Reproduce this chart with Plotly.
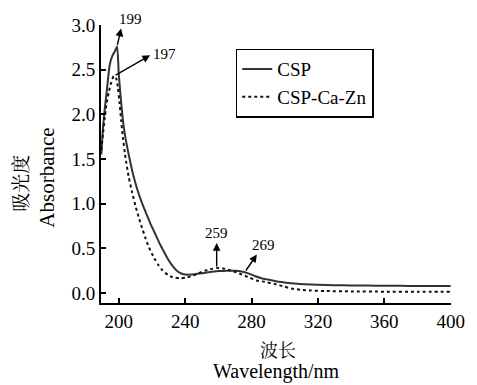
import plotly.graph_objects as go

# ---- data ----
csp_x = [189.5, 190.5, 191.5, 193, 194.5, 196, 197.5, 199, 200, 201.5, 203, 205, 207, 209, 211, 213,
         215, 217, 219, 221, 223, 225, 227, 229, 231, 233, 235, 237, 239, 242, 246, 250, 255, 260,
         265, 270, 274, 278, 282, 286, 290, 294, 298, 302, 306, 312, 320, 330, 340, 350, 360, 370,
         380, 390, 400]
csp_y = [1.55, 1.85, 2.05, 2.30, 2.55, 2.65, 2.70, 2.76, 2.45, 2.12, 1.86, 1.64, 1.46, 1.30, 1.17, 1.06,
         0.96, 0.87, 0.78, 0.70, 0.62, 0.54, 0.47, 0.40, 0.34, 0.29, 0.25, 0.225, 0.21, 0.205, 0.21, 0.22,
         0.235, 0.245, 0.25, 0.248, 0.24, 0.22, 0.19, 0.165, 0.15, 0.135, 0.122, 0.112, 0.105, 0.098,
         0.092, 0.088, 0.085, 0.083, 0.081, 0.080, 0.079, 0.078, 0.078]

zn_x = [189.5, 190.5, 191.5, 192.5, 194, 195.5, 197, 198.5, 199.5, 200.5, 201.5, 202.5, 204, 206, 208,
        210, 212, 214, 216, 218, 220, 222, 224, 226, 228, 230, 232, 234, 237, 240, 244, 248, 252, 256,
        259, 263, 267, 271, 275, 279, 283, 288, 294, 300, 304, 310, 315, 325, 340, 360, 380, 400]
zn_y = [1.60, 1.78, 1.95, 2.10, 2.25, 2.36, 2.43, 2.40, 2.30, 2.12, 1.92, 1.74, 1.52, 1.30, 1.13,
        0.98, 0.85, 0.73, 0.62, 0.52, 0.44, 0.37, 0.31, 0.26, 0.225, 0.20, 0.18, 0.17, 0.165, 0.17,
        0.19, 0.22, 0.25, 0.27, 0.28, 0.275, 0.255, 0.23, 0.20, 0.17, 0.14, 0.125, 0.10, 0.07, 0.05,
        0.035, 0.028, 0.022, 0.018, 0.015, 0.015, 0.015]

series_names = ["CSP", "CSP-Ca-Zn"]

# peak annotations: label, tail (on curve), head (near label)
peak_labels = ["199", "197", "259", "269"]
peak_tail_x = [199, 197.2, 259, 276]
peak_tail_y = [2.76, 2.43, 0.28, 0.235]
peak_head_x = [201.4, 218.9, 259, 283.2]
peak_head_y = [2.96, 2.66, 0.56, 0.43]

x_ticks = [200, 240, 280, 320, 360, 400]
y_ticks = [0.0, 0.5, 1.0, 1.5, 2.0, 2.5, 3.0]

SERIF = '"Liberation Serif", "Noto Serif CJK SC", "Noto Sans CJK SC", serif'

fig = go.Figure()
fig.add_trace(go.Scatter(x=csp_x, y=csp_y, mode="lines", name=series_names[0],
                         line=dict(color="#333333", width=2, shape="spline", smoothing=0.5)))
fig.add_trace(go.Scatter(x=zn_x, y=zn_y, mode="lines", name=series_names[1],
                         line=dict(color="#111111", width=2, dash="dot", shape="spline", smoothing=0.5)))

annotations = []
for lab, tx, ty, hx, hy in zip(peak_labels, peak_tail_x, peak_tail_y, peak_head_x, peak_head_y):
    annotations.append(dict(x=hx, y=hy, ax=tx, ay=ty, xref="x", yref="y", axref="x", ayref="y",
                            text="", showarrow=True, arrowhead=2, arrowsize=1.1, arrowwidth=1.4,
                            arrowcolor="black", standoff=0, startstandoff=0))

# label anchor (x, y in data) + pixel shifts
label_pos = [(207.0, 2.97, "center", "middle", 0, 9), (219.5, 2.67, "left", "middle", 0, 0),
             (259.0, 0.555, "center", "bottom", 0, 0), (287.5, 0.42, "center", "bottom", 0, 0)]
for lab, (lx, ly, xa, ya, xs, ys) in zip(peak_labels, label_pos):
    annotations.append(dict(x=lx, y=ly, xref="x", yref="y", text=lab, showarrow=False,
                            xanchor=xa, yanchor=ya, xshift=xs, yshift=ys,
                            font=dict(family=SERIF, size=15, color="black")))

# axis titles
annotations.append(dict(x=0.505, y=-0.172, xref="paper", yref="paper", text="波长", showarrow=False,
                        xanchor="center", yanchor="middle",
                        font=dict(family=SERIF, size=18, color="black")))
annotations.append(dict(x=0.5, y=-0.245, xref="paper", yref="paper", text="Wavelength/nm",
                        showarrow=False, xanchor="center", yanchor="middle",
                        font=dict(family=SERIF, size=20, color="black")))
annotations.append(dict(x=-0.228, y=0.43, xref="paper", yref="paper", text="吸光度", showarrow=False,
                        textangle=-90, xanchor="center", yanchor="middle",
                        font=dict(family=SERIF, size=19, color="black")))
annotations.append(dict(x=-0.155, y=0.45, xref="paper", yref="paper", text="Absorbance",
                        showarrow=False, textangle=-90, xanchor="center", yanchor="middle",
                        font=dict(family=SERIF, size=21, color="black")))

fig.update_layout(
    width=477, height=385,
    margin=dict(l=101, r=15, t=25, b=82),
    paper_bgcolor="white", plot_bgcolor="white",
    font=dict(family=SERIF, size=19, color="black"),
    showlegend=True,
    legend=dict(x=0.385, y=0.915, xanchor="left", yanchor="top",
                bordercolor="black", borderwidth=1.5, bgcolor="white",
                font=dict(family=SERIF, size=19, color="black"),
                tracegroupgap=0, itemwidth=30),
    annotations=annotations,
)
fig.update_xaxes(range=[189.3, 400.2], tickvals=x_ticks, ticktext=[str(v) for v in x_ticks],
                 showline=True, linecolor="black", linewidth=2, ticks="inside", ticklen=5,
                 tickwidth=2, tickcolor="black", showgrid=False, zeroline=False)
fig.update_yaxes(range=[-0.112, 3.0], tickvals=y_ticks, ticktext=[f"{v:.1f}" for v in y_ticks],
                 showline=True, linecolor="black", linewidth=2, ticks="inside", ticklen=5,
                 tickwidth=2, tickcolor="black", showgrid=False, zeroline=False)

fig.write_html("out.html")
